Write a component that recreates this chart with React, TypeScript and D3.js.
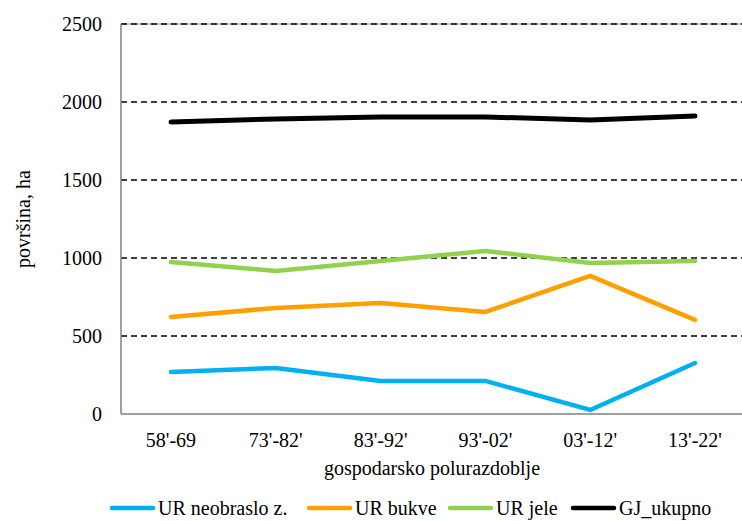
import * as d3 from "d3"
import { useRef, useEffect } from "react"

const periods = ["58'-69", "73'-82'", "83'-92'", "93'-02'", "03'-12'", "13'-22'"]
const yTicks = [0, 500, 1000, 1500, 2000, 2500]

const neobraslo = [269, 295, 212, 212, 26, 327]
const bukve = [622, 680, 712, 654, 885, 603]
const jele = [974, 917, 981, 1045, 968, 981]
const ukupno = [1872, 1891, 1904, 1904, 1885, 1910]

const seriesNames = ["UR neobraslo z.", "UR bukve", "UR jele", "GJ_ukupno"]
const seriesColors = ["#00B0F0", "#FFA000", "#92D050", "#000000"]

const W = 742
const H = 521
const FONT = "Liberation Serif, DejaVu Serif, Times New Roman, serif"

export default function App() {
  const svgRef = useRef<SVGSVGElement>(null)

  useEffect(() => {
    if (!svgRef.current) return
    const svg = d3.select(svgRef.current)
    svg.selectAll("*").remove()

    const left = 121
    const top = 24
    const bottom = 414
    const right = W

    const x = d3.scalePoint<string>().domain(periods).range([171, 695])
    const y = d3.scaleLinear().domain([0, 2500]).range([bottom, top])

    // gridlines
    svg.append("line")
      .attr("x1", left).attr("x2", right)
      .attr("y1", y(2500)).attr("y2", y(2500))
      .attr("stroke", "#8a8a8a").attr("stroke-width", 1)
    svg.append("g")
      .selectAll("line")
      .data(yTicks.filter((t) => t > 0))
      .join("line")
      .attr("x1", left).attr("x2", right)
      .attr("y1", (d) => y(d)).attr("y2", (d) => y(d))
      .attr("stroke", "#000").attr("stroke-width", 1.3)
      .attr("stroke-dasharray", "6,4")

    // axes
    svg.append("line")
      .attr("x1", left).attr("x2", left).attr("y1", top).attr("y2", bottom)
      .attr("stroke", "#7f7f7f").attr("stroke-width", 1.5)
    svg.append("line")
      .attr("x1", left).attr("x2", right).attr("y1", bottom).attr("y2", bottom)
      .attr("stroke", "#7f7f7f").attr("stroke-width", 1.5)

    // tick labels
    svg.append("g")
      .selectAll("text")
      .data(yTicks)
      .join("text")
      .attr("x", 102)
      .attr("y", (d) => y(d))
      .attr("dy", "0.35em")
      .attr("text-anchor", "end")
      .style("font-family", FONT)
      .style("font-size", "20px")
      .text((d) => d)

    svg.append("g")
      .selectAll("text")
      .data(periods)
      .join("text")
      .attr("x", (d) => x(d)!)
      .attr("y", 447)
      .attr("text-anchor", "middle")
      .style("font-family", FONT)
      .style("font-size", "20px")
      .text((d) => d)

    // axis titles
    svg.append("text")
      .attr("x", 432).attr("y", 475)
      .attr("text-anchor", "middle")
      .style("font-family", FONT)
      .style("font-size", "20px")
      .text("gospodarsko polurazdoblje")

    svg.append("text")
      .attr("transform", `translate(30,${(top + bottom) / 2}) rotate(-90)`)
      .attr("text-anchor", "middle")
      .style("font-family", FONT)
      .style("font-size", "20px")
      .text("površina, ha")

    // lines
    const allSeries = [neobraslo, bukve, jele, ukupno]
    const line = d3.line<number>()
      .x((_, i) => x(periods[i])!)
      .y((d) => y(d))

    allSeries.forEach((s, i) => {
      svg.append("path")
        .attr("d", line(s) || "")
        .attr("fill", "none")
        .attr("stroke", seriesColors[i])
        .attr("stroke-width", i === 3 ? 5 : 4.5)
        .attr("stroke-linecap", "round")
        .attr("stroke-linejoin", "round")
    })

    // legend
    const legendX = [112, 309, 450, 573]
    const lg = svg.append("g")
    seriesNames.forEach((name, i) => {
      lg.append("line")
        .attr("x1", legendX[i]).attr("x2", legendX[i] + 41)
        .attr("y1", 508).attr("y2", 508)
        .attr("stroke", seriesColors[i])
        .attr("stroke-width", 4.5)
        .attr("stroke-linecap", "round")
      lg.append("text")
        .attr("x", legendX[i] + 46)
        .attr("y", 508)
        .attr("dy", "0.35em")
        .style("font-family", FONT)
        .style("font-size", "20px")
        .text(name)
    })
  }, [])

  return (
    <div style={{ position: "absolute", left: 0, top: 0 }}>
      <svg ref={svgRef} width={W} height={H} style={{ display: "block", background: "#fff" }}></svg>
    </div>
  )
}
